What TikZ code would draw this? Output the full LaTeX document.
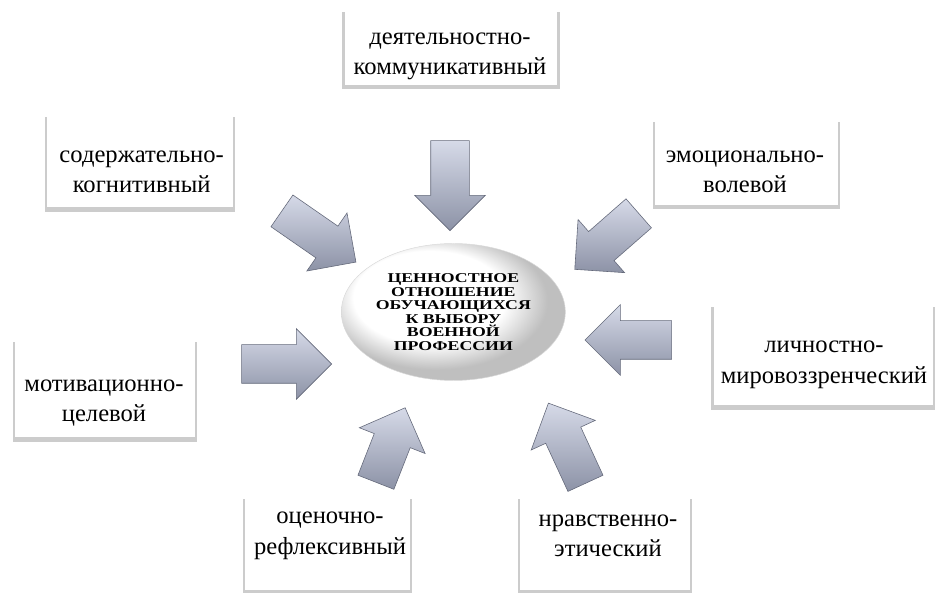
\documentclass[tikz,border=0pt]{standalone}
\usepackage{fontspec}
\setmainfont{Liberation Serif}
\newfontfamily\capsfont[FakeStretch=1.32]{Liberation Serif}
\usetikzlibrary{shapes.geometric,shapes.arrows,shadows}
\definecolor{arrowlight}{RGB}{214,218,232}
\definecolor{arrowdark}{RGB}{140,146,166}
\definecolor{arrowedge}{RGB}{100,105,122}
\pgfdeclareradialshading{oval}{\pgfpoint{-8bp}{8bp}}{color(0bp)=(white); color(17bp)=(white); color(25bp)=(gray!50); color(50bp)=(gray!50)}
\tikzstyle{aspect}=[rectangle, fill=white,
    drop shadow={shadow xshift=0pt, shadow yshift=-3pt, shadow scale=1.025, opacity=0.4}]
\tikzstyle{lbl}=[align=center, font=\fontsize{21}{26}\selectfont]
\tikzstyle{push}=[single arrow, draw=arrowedge, line width=0.5pt, top color=arrowlight,
    bottom color=arrowdark, minimum height=2.7cm, inner xsep=0pt, inner ysep=0.57cm,
    single arrow head extend=0.48cm]

\begin{document}
\begin{tikzpicture}
  \useasboundingbox (0,0) rectangle (28.11,17.79);
  % aspects
  \node at (13.53, 16.37) (act)[aspect, minimum width=6.36cm, minimum height=2.25cm] {};
  \node at (13.5, 16.1) (acttext)[lbl] {деятельностно-\\коммуникативный};
  \node at (4.2, 12.96) (cog)[aspect, minimum width=5.58cm, minimum height=2.76cm] {};
  \node at (4.25, 12.63) (cogtext)[lbl] {содержательно-\\когнитивный};
  \node at (22.4, 12.92) (emo)[aspect, minimum width=5.49cm, minimum height=2.55cm] {};
  \node at (22.35, 12.63) (emotext)[lbl] {эмоционально-\\волевой};
  \node at (3.15, 6.14) (mot)[aspect, minimum width=5.4cm, minimum height=2.91cm] {};
  \node at (3.12, 5.7) (mottext)[lbl] {мотивационно-\\целевой};
  \node at (24.7, 7.14) (pers)[aspect, minimum width=6.55cm, minimum height=3cm] {};
  \node at (24.72, 6.84) (perstext)[lbl] {личностно-\\мировоззренческий};
  \node at (9.83, 1.49) (eval)[aspect, minimum width=4.95cm, minimum height=2.79cm] {};
  \node at (9.9, 1.71) (evaltext)[lbl] {оценочно-\\рефлексивный};
  \node at (18.15, 1.49) (moral)[aspect, minimum width=5.1cm, minimum height=2.79cm] {};
  \node at (18.24, 1.71) (moraltext)[lbl] {нравственно-\\этический};

  \node at (13.6, 8.43) (val)[ellipse, shading=oval, draw=gray!30, inner sep=0pt,
    minimum width=6.72cm, minimum height=4.11cm, align=center,
    font=\capsfont\bfseries\fontsize{11.5}{11.6}\selectfont]
    {ЦЕННОСТНОЕ\\ОТНОШЕНИЕ\\ОБУЧАЮЩИХСЯ\\К ВЫБОРУ\\ВОЕННОЙ\\ПРОФЕССИИ};

  % arrows
  \node at (13.5, 12.51) (aact)[push, rotate=-90] {};
  \node at (9.33, 10.86) (acog)[push, rotate=-34.7] {};
  \node at (18.42, 10.74) (aemo)[push, rotate=-138.8, minimum height=2.55cm] {};
  \node at (8.31, 6.87) (amot)[push] {};
  \node at (19.14, 7.59) (apers)[push, rotate=180, minimum height=2.6cm] {};
  \node at (11.61, 4.17) (aeval)[push, rotate=68.6, minimum height=2.4cm] {};
  \node at (17.13, 4.23) (amoral)[push, rotate=114.8, minimum height=2.65cm] {};
\end{tikzpicture}
\end{document}
